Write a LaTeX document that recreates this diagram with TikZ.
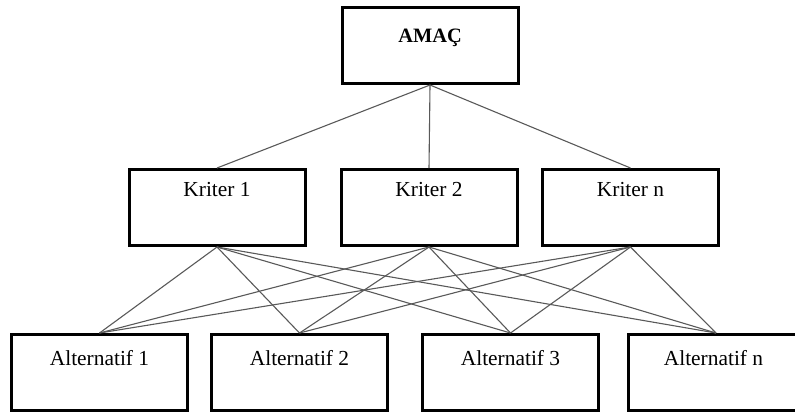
\documentclass[tikz,border=0pt]{standalone}
\usepackage{fontspec}
\setmainfont{Liberation Serif}
\usetikzlibrary{positioning}
\begin{document}
\begin{tikzpicture}[
            x = 0.5pt, y = -0.5pt,
            box/.style = {draw, line width = 1.5pt, minimum width = 88pt, minimum height = 38pt, inner sep = 0pt},
            txt/.style = {inner sep = 0pt, font = \fontsize{10.7}{12}\selectfont},
            con/.style = {draw, black!65, line width = 0.55pt},
        ]
        \useasboundingbox (0,0) rectangle (795,413);

        \node (goal) [box] at (430,45.5){};
        \node (k1) [box] at (217,207.5){};
        \node (k2) [box] at (429,207.5){};
        \node (kn) [box] at (630.5,207.5){};
        \node (a1) [box] at (99.5,372.5){};
        \node (a2) [box] at (299.5,372.5){};
        \node (a3) [box] at (510.5,372.5){};
        \node (an) [box] at (716,372.5){};

        \node (goalt) [txt, font = \fontsize{10.2}{12}\selectfont\bfseries] at (430,38){AMAÇ};
        \node (k1t) [txt] at (217,190){Kriter 1};
        \node (k2t) [txt] at (429,190){Kriter 2};
        \node (knt) [txt] at (630.5,190){Kriter n};
        \node (a1t) [txt] at (99.5,358){Alternatif 1};
        \node (a2t) [txt] at (299.5,358){Alternatif 2};
        \node (a3t) [txt] at (510.5,358){Alternatif 3};
        \node (ant) [txt] at (713.5,358){Alternatif n};

        \path[con] (goal.south) -- (k1.north);
        \path[con] (goal.south) -- (k2.north);
        \path[con] (goal.south) -- (kn.north);

        \path[con] (k1.south) -- (a1.north);
        \path[con] (k1.south) -- (a2.north);
        \path[con] (k1.south) -- (a3.north);
        \path[con] (k1.south) -- (an.north);
        \path[con] (k2.south) -- (a1.north);
        \path[con] (k2.south) -- (a2.north);
        \path[con] (k2.south) -- (a3.north);
        \path[con] (k2.south) -- (an.north);
        \path[con] (kn.south) -- (a1.north);
        \path[con] (kn.south) -- (a2.north);
        \path[con] (kn.south) -- (a3.north);
        \path[con] (kn.south) -- (an.north);
    \end{tikzpicture}
\end{document}
